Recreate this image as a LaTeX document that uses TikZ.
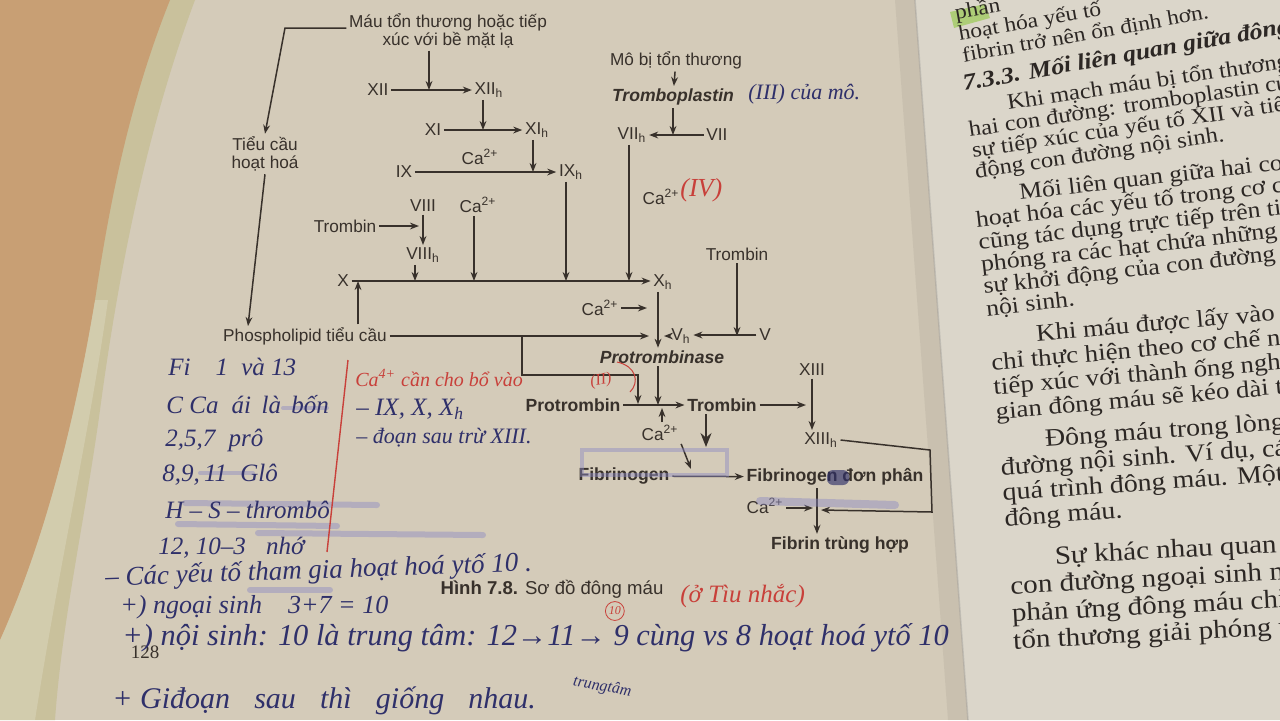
\documentclass[tikz,border=0pt]{standalone}
\usepackage{fontspec}
\setmainfont{Liberation Sans}
\newfontfamily\bookfont{Liberation Serif}
\newfontfamily\pagefont[FakeStretch=1.12]{Liberation Serif}
\usetikzlibrary{arrows.meta}

\definecolor{ink}{HTML}{38312B}
\definecolor{pageink}{HTML}{2C2724}
\definecolor{paperL}{HTML}{D4CBB9}
\definecolor{paperR}{HTML}{DBD6CA}
\definecolor{desk}{HTML}{C89F74}
\definecolor{pagestack}{HTML}{C9C19C}
\definecolor{pen}{HTML}{2F306A}
\definecolor{redpen}{HTML}{C8403A}
\definecolor{marker}{HTML}{8C89C2}
\definecolor{greenmark}{HTML}{9ECB5C}

\tikzset{
  lbl/.style={font=\fontsize{8.6}{9.2}\selectfont, text=ink, inner sep=1.2pt},
  blbl/.style={lbl, font=\fontsize{8.8}{10}\selectfont\bfseries},
  bilbl/.style={lbl, font=\fontsize{8.8}{10}\selectfont\bfseries\itshape},
  ln/.style={draw=ink, line width=0.75pt},
  arr/.style={ln, -{Stealth[length=4.5pt,width=3.4pt]}},
  bigarr/.style={ln, -{Stealth[length=7pt,width=5.5pt]}},
  para/.style={text=pageink, anchor=north west, inner sep=0pt, align=left},
  hand/.style={font=\bookfont\itshape\fontsize{12.5}{14}\selectfont, text=pen, anchor=west, inner sep=0pt},
  redhand/.style={hand, text=redpen},
  hilite/.style={draw=marker, opacity=0.45, line width=2.2pt, line cap=round},
}

\begin{document}
\begin{tikzpicture}[x=0.5pt, y=-0.5pt]
\useasboundingbox (0,0) rectangle (1280,720);

% ---------- paper, page stack, desk and gutter ----------
\fill[paperL] (0,0) rectangle (1280,720);
\fill[paperR] (915,0) -- (1280,0) -- (1280,720) -- (968,720) -- cycle;
\fill[black, opacity=0.05] (895,0) -- (915,0) -- (968,720) -- (948,720) -- cycle;
\draw[black!45, opacity=0.3, line width=0.8pt] (915,0) -- (968,720);
\fill[pagestack] (0,0) -- (195,0) .. controls (150,120) and (120,260) .. (100,410)
  .. controls (85,520) and (62,620) .. (55,720) -- (0,720) -- cycle;
\fill[desk] (0,0) -- (170,0) .. controls (130,100) and (110,200) .. (95,300)
  .. controls (75,420) and (45,540) .. (0,640) -- cycle;
\fill[white, opacity=0.18] (0,640) .. controls (45,540) and (75,420) .. (95,300)
  -- (108,300) .. controls (90,430) and (60,560) .. (35,720) -- (0,720) -- cycle;

% ---------- the coagulation scheme ----------
\node[lbl] (mau1) at (448,22) {Máu tổn thương hoặc tiếp};
\node[lbl] (mau2) at (448,40) {xúc với bề mặt lạ};
\coordinate (c1) at (285,28);
\node[lbl, align=center] (tc) at (265,154) {Tiểu cầu\\hoạt hoá};
\draw[arr] (mau1.west |- c1) -- (c1) -- (tc.north);
\node[lbl] (pl) at (305,336) {Phospholipid tiểu cầu};
\coordinate (plN) at (248,326);
\draw[arr] (tc.south) -- (plN);

% intrinsic cascade
\node[lbl] (xii) at (378,90) {XII};
\node[lbl] (xiih) at (489,90) {XII\textsubscript{h}};
\draw[arr] (xii) -- (xiih);
\coordinate (j1) at (429,90);
\draw[arr] (mau2.south -| j1) -- (j1);

\node[lbl] (xi) at (433,130) {XI};
\node[lbl] (xih) at (537,130) {XI\textsubscript{h}};
\draw[arr] (xi) -- (xih);
\coordinate (j2) at (483,130);
\draw[arr] (xiih.south -| j2) -- (j2);

\node[lbl] (ca1) at (480,157) {Ca\textsuperscript{2+}};
\node[lbl] (ix) at (404,172) {IX};
\node[lbl] (ixh) at (571,172) {IX\textsubscript{h}};
\draw[arr] (ix) -- (ixh);
\coordinate (j3) at (533,172);
\draw[arr] (xih.south -| j3) -- (j3);

% extrinsic branch
\node[lbl] (mo) at (676,60) {Mô bị tổn thương};
\node[bilbl] (tpl) at (673,97) {Tromboplastin};
\draw[arr] (mo) -- (tpl);
\node[lbl] (vii) at (717,135) {VII};
\node[lbl] (viih) at (632,135) {VII\textsubscript{h}};
\draw[arr] (vii) -- (viih);
\coordinate (j5) at (673,135);
\draw[arr] (tpl.south -| j5) -- (j5);
\node[lbl] (ca2) at (661,197) {Ca\textsuperscript{2+}};

% factor VIII
\node[lbl] (viii) at (423,206) {VIII};
\node[lbl] (tromb1) at (345,226) {Trombin};
\node[lbl] (viiih) at (423,255) {VIII\textsubscript{h}};
\draw[arr] (viii) -- (viiih);
\coordinate (j7) at (419,226);
\draw[arr] (tromb1) -- (j7);
\node[lbl] (ca3) at (478,205) {Ca\textsuperscript{2+}};

% factor X
\node[lbl] (x) at (343,281) {X};
\node[lbl] (xh) at (663,282) {X\textsubscript{h}};
\draw[arr] (x.east) -- (x.east -| xh.west);
\coordinate (j8) at (415,281);
\coordinate (j9) at (474,281);
\coordinate (j4) at (566,281);
\coordinate (j6) at (629,281);
\draw[arr] (viiih.south -| j8) -- (j8);
\draw[arr] (ca3.south -| j9) -- (j9);
\draw[arr] (ixh.south -| j4) -- (j4);
\draw[arr] (viih.south -| j6) -- (j6);
\coordinate (j10) at (358,281);
\draw[arr] (pl.north -| j10) -- (j10);

% prothrombinase
\coordinate (vx) at (658,0);
\node[bilbl] (ptb) at (662,357) {Protrombinase};
\draw[arr] (xh.south -| vx) -- (ptb.north -| vx);
\node[lbl] (ca4) at (600,308) {Ca\textsuperscript{2+}};
\coordinate (j16) at (647,308);
\draw[arr] (ca4) -- (j16);
\coordinate (j11) at (649,336);
\draw[arr] (pl.east) -- (j11);
\node[lbl] (vh) at (681,336) {V\textsubscript{h}};
\node[lbl] (v) at (765,335) {V};
\node[lbl] (tromb2) at (737,254) {Trombin};
\draw[arr] (v.west) -- (v.west -| vh.east);
\coordinate (j18) at (664,336);
\draw[arr] (vh) -- (j18);
\coordinate (j19) at (737,336);
\draw[arr] (tromb2) -- (j19);

% thrombin
\node[blbl] (prot) at (573,405) {Protrombin};
\node[blbl] (tromb3) at (722,405) {Trombin};
\draw[arr] (prot) -- (tromb3);
\coordinate (j12) at (522,336);
\coordinate (j13) at (522,375);
\coordinate (j14) at (638,375);
\coordinate (j15) at (638,404);
\draw[arr] (j12) -- (j13) -- (j14) -- (j15);
\draw[arr] (ptb.south -| vx) -- (vx |- prot);
\node[lbl] (ca5) at (660,433) {Ca\textsuperscript{2+}};
\coordinate (j21) at (662,408);
\draw[arr] (ca5.north -| j21) -- (j21);

% factor XIII
\node[lbl] (xiii) at (812,370) {XIII};
\node[lbl] (xiiih) at (821,440) {XIII\textsubscript{h}};
\draw[arr] (xiii.south) -- (xiii.south |- xiiih.north);
\coordinate (j22) at (806,405);
\draw[arr] (tromb3) -- (j22);

% fibrin
\node[blbl] (fib) at (624,476) {Fibrinogen};
\node[blbl] (fdp) at (835,477) {Fibrinogen đơn phân};
\draw[arr] (fib) -- (fdp);
\coordinate (j23) at (706,447);
\draw[bigarr] (tromb3.south -| j23) -- (j23);
\coordinate (j24) at (691,469);
\draw[arr] (ca5.south east) -- (j24);
\coordinate (k1) at (930,450);
\coordinate (k2) at (932,512);
\coordinate (j25) at (821,510);
\draw[arr] (xiiih.east) -- (k1) -- (k2) -- (j25);
\node[lbl] (ca7) at (765,506) {Ca\textsuperscript{2+}};
\coordinate (j26) at (813,508);
\draw[arr] (ca7.east |- j26) -- (j26);
\coordinate (vf) at (817,0);
\node[blbl] (ftp) at (840,545) {Fibrin trùng hợp};
\draw[arr] (fdp.south -| vf) -- (ftp.north -| vf);

% caption and folio
\node[lbl, font=\fontsize{9.3}{10}\selectfont] (cap) at (552,589) {\textbf{Hình 7.8.} Sơ đồ đông máu};
\node[font=\bookfont\fontsize{9.5}{10}\selectfont, text=ink] (pg) at (145,652) {128};

% ---------- marker strokes ----------
\draw[hilite] (582,450) rectangle (727,475);
\draw[hilite, line width=4pt] (760,501) -- (895,505);
\fill[pen, opacity=0.65, rounded corners=3pt] (827,470) rectangle (849,485);
\draw[hilite, line width=3pt] (185,503) -- (377,505);
\draw[hilite, line width=3pt] (178,524) -- (337,526);
\draw[hilite, line width=3pt] (258,533) -- (483,535);
\draw[hilite, line width=2pt] (283,408) -- (327,408);
\draw[hilite, line width=2pt] (200,473) -- (253,473);
\draw[hilite, line width=3pt] (250,590) -- (330,590);

% ---------- pen notes ----------
\draw[redpen, line width=0.7pt] (348,360) -- (327,552);
\node[hand] (n1) at (168,367) {Fi\quad 1\; và 13};
\node[hand] (n2) at (166,405) {C Ca\; ái\, là\, bốn};
\node[hand] (n3) at (165,440) {2,5,7\; prô};
\node[hand] (n4) at (162,475) {8,9,\,11\; Glô};
\node[hand] (n5) at (165,510) {H – S – thrombô};
\node[hand] (n6) at (158,548) {12, 10–3\;\; nhớ};
\node[redhand, font=\bookfont\itshape\fontsize{10}{11}\selectfont] (n7) at (355,378) {Ca\textsuperscript{4+} cần cho bổ vào};
\node[hand] (n8) at (356,409) {– IX, X, X\textsubscript{h}};
\node[hand, font=\bookfont\itshape\fontsize{11}{12}\selectfont] (n9) at (356,438) {– đoạn sau trừ XIII.};
\node[hand, font=\bookfont\itshape\fontsize{13.5}{15}\selectfont, rotate=2] (n10) at (105,579) {– Các yếu tố tham gia hoạt hoá ytố 10 .};
\node[hand, font=\bookfont\itshape\fontsize{13}{14}\selectfont] (n11) at (120,607) {+) ngoại sinh\quad 3+7 = 10};
\node[hand, font=\bookfont\itshape\fontsize{15.2}{16}\selectfont] (n12) at (122,638) {+) nội sinh: 10 là trung tâm: 12→11→ 9 cùng vs 8 hoạt hoá ytố 10};
\node[hand, font=\bookfont\itshape\fontsize{8}{9}\selectfont, rotate=-10] (n13) at (573,682) {trungtâm};
\node[hand, font=\bookfont\itshape\fontsize{15}{16}\selectfont] (n14) at (112,701) {+ Giđoạn\;\; sau\;\; thì\;\; giống\;\; nhau.};
\node[redhand] (n15) at (680,596) {(ở Tìu nhắc)};
\node[redhand, font=\bookfont\itshape\fontsize{6}{7}\selectfont, draw=redpen, circle, inner sep=0.8pt] (n16) at (605,611) {10};
\node[hand, font=\bookfont\itshape\fontsize{11}{12}\selectfont] (n17) at (748,94) {(III) của mô.};
\node[redhand, font=\bookfont\itshape\fontsize{13}{14}\selectfont] (n18) at (680,190) {(IV)};
\node[redhand, font=\bookfont\itshape\fontsize{8}{9}\selectfont, rotate=10] (n19) at (590,383) {(II)};
\draw[redpen, line width=0.5pt] (617,362) .. controls (636,366) and (640,382) .. (630,392);

% ---------- facing page ----------
\begin{scope}
\clip (0,0) rectangle (1280,720);
\fill[greenmark, opacity=0.75] (950,12) -- (985,4) -- (990,18) -- (954,28) -- cycle;
\node[para, font=\pagefont\fontsize{10.5}{8.6}\selectfont, rotate=10] (p0) at (953,4)
  {phần\\hoạt hóa yếu tố\\fibrin trở nên ổn định hơn.};
\node[para, anchor=west, font=\pagefont\bfseries\itshape\fontsize{11.5}{12}\selectfont, rotate=10] (p1) at (963,85)
  {7.3.3. Mối liên quan giữa đông máu};
\node[para, font=\pagefont\fontsize{11}{10.5}\selectfont, rotate=8.5] (p2) at (964,100)
  {\hspace*{21pt}Khi mạch máu bị tổn thương\\hai con đường: tromboplastin của\\sự tiếp xúc của yếu tố XII và tiểu\\động con đường nội sinh.};
\node[para, font=\pagefont\fontsize{11.5}{11.2}\selectfont, rotate=6.5] (p3) at (972,188)
  {\hspace*{23pt}Mối liên quan giữa hai con\\hoạt hóa các yếu tố trong cơ chế\\cũng tác dụng trực tiếp trên tiểu\\phóng ra các hạt chứa những yếu\\sự khởi động của con đường đông\\nội sinh.};
\node[para, font=\pagefont\fontsize{12}{12.3}\selectfont, rotate=5] (p4) at (988,328)
  {\hspace*{23.5pt}Khi máu được lấy vào ống\\chỉ thực hiện theo cơ chế nội\\tiếp xúc với thành ống nghiệm\\gian đông máu sẽ kéo dài tới};
\node[para, font=\pagefont\fontsize{12.5}{12.8}\selectfont, rotate=4] (p5) at (998,432)
  {\hspace*{23pt}Đông máu trong lòng\\đường nội sinh. Ví dụ, các phản\\quá trình đông máu. Một\\đông máu.};
\node[para, font=\pagefont\fontsize{13}{13.8}\selectfont, rotate=3] (p6) at (1008,548)
  {\hspace*{23pt}Sự khác nhau quan\\con đường ngoại sinh một\\phản ứng đông máu chỉ\\tổn thương giải phóng và};
\end{scope}
\end{tikzpicture}
\end{document}
